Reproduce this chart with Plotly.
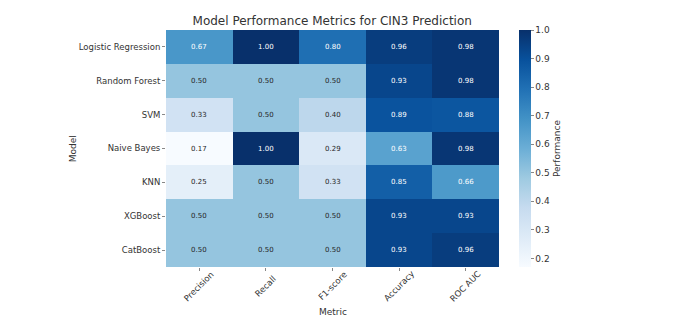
import plotly.graph_objects as go

models = ["Logistic Regression", "Random Forest", "SVM", "Naive Bayes", "KNN", "XGBoost", "CatBoost"]
metrics = ["Precision", "Recall", "F1-score", "Accuracy", "ROC AUC"]
precision = [0.67, 0.50, 0.33, 0.17, 0.25, 0.50, 0.50]
recall = [1.00, 0.50, 0.50, 1.00, 0.50, 0.50, 0.50]
f1 = [0.80, 0.50, 0.40, 0.29, 0.33, 0.50, 0.50]
accuracy = [0.96, 0.93, 0.89, 0.63, 0.85, 0.93, 0.93]
roc_auc = [0.98, 0.98, 0.88, 0.98, 0.66, 0.93, 0.96]
cbar_ticks = [0.2, 0.3, 0.4, 0.5, 0.6, 0.7, 0.8, 0.9, 1.0]

cols = [precision, recall, f1, accuracy, roc_auc]
z = [[c[i] for c in cols] for i in range(len(models))]
zmin = min(min(r) for r in z)
zmax = max(max(r) for r in z)

blues = [[0.0, "#f7fbff"], [0.125, "#deebf7"], [0.25, "#c6dbef"], [0.375, "#9ecae1"],
         [0.5, "#6baed6"], [0.625, "#4292c6"], [0.75, "#2171b5"], [0.875, "#08519c"], [1.0, "#08306b"]]

FONT = "DejaVu Sans"
TXT = "#333333"
fig = go.Figure(go.Heatmap(
    z=z, x=metrics, y=models, colorscale=blues, zmin=zmin, zmax=zmax, xgap=0, ygap=0,
    colorbar=dict(
        thickness=12, len=1.0, lenmode="fraction", y=0.5, yanchor="middle",
        x=1.06, xanchor="left", xpad=0, ypad=0, outlinewidth=0,
        tickvals=cbar_ticks, ticktext=[f"{t:.1f}" for t in cbar_ticks],
        ticks="outside", ticklen=3, tickcolor="#888888",
        tickfont=dict(family=FONT, size=9, color=TXT),
        title=dict(text="Performance", side="right", font=dict(family=FONT, size=9, color=TXT)),
    ),
    hoverinfo="skip",
))

annotations = []
for i, m in enumerate(models):
    for j, k in enumerate(metrics):
        v = z[i][j]
        frac = (v - zmin) / (zmax - zmin)
        annotations.append(dict(
            x=k, y=m, text=f"{v:.2f}", showarrow=False,
            font=dict(family=FONT, size=7, color="#ffffff" if frac > 0.5 else "#262626"),
        ))
# rotated x tick labels, centred under each tick (matplotlib style)
for k in metrics:
    annotations.append(dict(
        x=k, y=-0.082, xref="x", yref="paper", text=k, showarrow=False, textangle=-45,
        xanchor="center", yanchor="middle", font=dict(family=FONT, size=8.5, color=TXT),
    ))
annotations.append(dict(text="Model", x=-0.28, y=0.5, xref="paper", yref="paper", showarrow=False,
                        xanchor="center", yanchor="middle", textangle=-90,
                        font=dict(family=FONT, size=9, color=TXT)))
annotations.append(dict(text="Metric", x=0.5, y=-0.19, xref="paper", yref="paper", showarrow=False,
                        xanchor="center", yanchor="middle", font=dict(family=FONT, size=9, color=TXT)))

fig.update_layout(
    width=685, height=323,
    margin=dict(l=166, r=186, t=30, b=56),
    paper_bgcolor="white", plot_bgcolor="white",
    title=dict(text="Model Performance Metrics for CIN3 Prediction", x=0.485, xanchor="center",
               y=0.935, yanchor="middle", font=dict(family=FONT, size=12, color=TXT)),
    xaxis=dict(showticklabels=False, ticks="outside", ticklen=3, tickcolor="#888888", showgrid=False,
               zeroline=False),
    yaxis=dict(autorange="reversed", ticks="outside", ticklen=3, tickcolor="#888888", showgrid=False,
               tickfont=dict(family=FONT, size=8.5, color=TXT), zeroline=False),
    annotations=annotations,
)
fig.write_html("out.html")
